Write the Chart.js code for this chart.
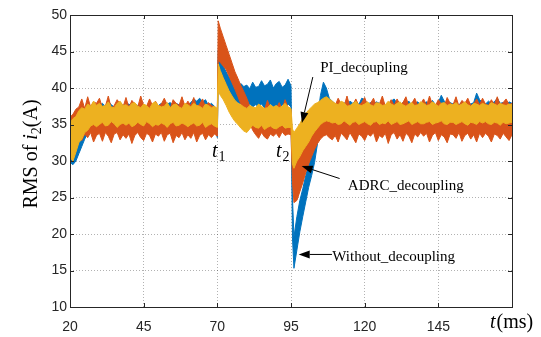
<!DOCTYPE html>
<html lang="en">
<head>
<meta charset="UTF-8">
<title>RMS of i2(A)</title>
<script src="https://cdn.jsdelivr.net/npm/chart.js"></script>
<style>
  html, body { margin: 0; padding: 0; background: #fff; }
  #wrap { width: 541px; height: 337px; }
</style>
</head>
<body>
<div id="wrap"><canvas id="rms-chart" width="541" height="337"></canvas></div>

<script>
// time axis (ms)
var times = [
  20,21,22,23,24,25,26,27,28,29,
  30,31,32,33,34,35,36,37,38,39,
  40,41,42,43,44,45,46,47,48,49,
  50,51,52,53,54,55,56,57,58,59,
  60,61,62,63,64,65,66,67,68,69,
  70,70.3,71,72,73,74,75,76,77,78,79,
  80,81,82,83,84,85,86,87,88,89,
  90,91,92,93,94,95,95.5,
  96,97,98,99,
  100,101,102,103,104,105,106,107,108,109,
  110,111,112,113,114,115,116,117,118,119,
  120,121,122,123,124,125,126,127,128,129,
  130,131,132,133,134,135,136,137,138,139,
  140,141,142,143,144,145,146,147,148,149,
  150,151,152,153,154,155,156,157,158,159,
  160,161,162,163,164,165,166,167,168,169,170
];

// PI_decoupling band (lower / upper edge of the ripple)
var piLow = [
  30.5,30.0,31.2,32.5,33.0,33.9,34.2,34.8,35.0,34.7,
  35.0,35.3,34.8,34.9,35.4,35.1,34.6,35.0,35.2,34.9,
  35.2,34.7,34.9,35.3,35.0,34.8,35.4,35.1,34.7,35.0,
  34.9,35.2,35.0,34.6,35.1,35.3,34.8,34.9,35.2,35.0,
  34.7,35.0,35.2,34.8,34.9,35.3,34.6,34.9,35.1,34.8,
  34.6,39.6,39.0,38.4,37.6,36.7,36.0,35.4,35.0,34.5,34.1,
  33.9,34.4,34.9,34.6,34.5,34.9,34.3,34.6,34.8,34.5,
  34.4,34.7,34.9,34.5,34.6,34.6,29.6,
  29.0,30.0,30.6,31.4,
  32.0,32.6,33.4,34.0,34.5,35.0,35.3,35.5,35.4,35.2,
  35.3,35.0,35.1,35.5,35.2,34.9,35.3,35.4,35.0,35.2,
  35.4,35.1,34.9,35.3,35.4,35.0,35.2,35.1,35.5,35.0,
  35.2,35.4,35.0,35.1,35.3,35.5,35.0,35.2,35.4,35.1,
  35.1,35.3,35.4,35.0,35.2,35.3,35.5,35.1,35.0,35.3,
  35.3,35.0,35.2,35.4,35.1,34.9,35.3,35.2,35.0,35.4,
  35.2,35.4,35.1,35.0,35.3,35.2,34.9,35.3,35.1,35.2,35.3
];
var piHigh = [
  35.2,35.8,36.1,36.9,37.3,37.1,37.8,37.5,38.2,37.6,
  37.9,37.5,37.6,38.1,37.4,37.3,37.9,38.2,37.6,37.7,
  37.4,37.9,38.0,37.5,37.3,37.8,37.6,37.2,37.9,38.1,
  37.6,37.4,37.5,38.0,37.3,37.7,37.8,37.4,37.2,37.9,
  37.7,37.4,37.9,37.6,37.5,37.2,37.8,37.6,37.3,37.5,
  37.2,43.3,42.4,41.4,40.5,39.6,38.9,38.3,37.9,37.7,37.4,
  37.2,37.6,37.4,37.3,37.8,37.5,37.2,37.3,37.7,37.4,
  37.6,37.3,37.5,37.9,37.4,37.2,34.4,
  33.9,34.5,35.1,35.9,
  36.5,37.0,37.4,37.8,38.0,38.3,38.6,38.8,38.5,38.2,
  37.9,37.7,38.2,38.0,37.5,37.6,37.9,38.2,37.7,37.6,
  37.8,38.1,37.7,37.5,38.0,37.9,37.6,37.7,38.2,37.8,
  37.6,37.9,38.1,37.7,37.5,37.8,38.0,37.6,37.7,38.1,
  37.9,37.6,37.7,38.1,37.8,37.5,37.9,38.0,37.6,37.8,
  37.7,38.0,37.6,37.8,38.1,37.7,37.5,37.9,37.8,37.6,
  37.9,37.7,37.6,38.0,37.8,37.6,37.9,37.7,37.6,37.8,37.7
];

// ADRC_decoupling band
var adrcLow = [
  33.8,34.0,33.6,33.4,32.8,33.7,33.2,33.9,32.6,33.5,
  33.8,32.7,33.9,33.4,32.5,33.7,33.9,32.9,33.6,33.1,
  33.7,32.4,33.5,33.9,33.2,32.8,33.8,33.5,32.6,33.7,
  33.4,33.9,32.7,33.6,33.8,32.5,33.5,33.2,33.9,32.9,
  33.6,33.1,33.9,32.6,33.5,33.8,32.9,33.6,33.2,33.7,
  33.4,43.8,43.5,43.0,42.5,41.6,40.7,39.8,38.8,37.8,37.0,
  36.0,35.2,34.2,33.6,33.1,33.9,33.3,33.0,33.7,33.4,
  33.8,33.2,34.0,33.5,33.7,33.6,27.2,
  24.3,24.6,25.8,27.0,
  28.4,29.6,30.6,31.6,32.4,33.0,33.4,33.6,33.2,32.9,
  33.5,32.6,33.8,33.4,32.9,33.9,33.2,32.5,33.7,33.4,
  32.8,33.7,33.4,33.9,32.6,33.5,33.2,33.8,32.4,33.6,
  33.9,33.0,33.6,32.7,33.8,33.4,32.5,33.7,33.3,33.9,
  33.4,33.8,32.6,33.5,33.9,32.8,33.6,33.3,32.5,33.7,
  33.6,33.1,33.9,32.7,33.5,33.8,33.0,33.6,32.6,33.8,
  33.2,33.8,33.4,32.6,33.7,33.5,33.0,33.8,33.3,32.8,33.6
];
var adrcHigh = [
  36.0,36.4,37.1,37.4,38.5,37.2,38.8,37.4,38.1,37.9,
  38.6,37.3,37.5,38.9,37.2,37.6,38.4,37.8,37.4,38.7,
  37.3,38.3,37.8,37.4,38.9,37.6,37.5,38.5,37.6,38.2,
  37.5,37.8,38.6,37.7,37.2,38.4,37.9,37.6,38.8,37.5,
  38.2,37.6,38.7,37.4,37.8,38.5,37.3,38.0,37.6,37.4,
  36.8,49.2,48.2,47.0,45.8,44.6,43.4,42.2,41.3,40.3,39.5,
  38.6,37.5,37.0,37.2,36.9,37.4,37.0,38.3,37.3,36.9,
  37.2,38.0,37.1,38.4,37.3,37.1,31.8,
  29.6,30.2,31.2,32.2,
  33.2,34.2,35.1,36.0,36.6,37.1,37.6,37.8,37.4,37.9,
  37.6,38.6,37.8,37.5,38.9,37.4,37.7,38.5,37.6,38.0,
  38.7,37.6,37.9,38.6,37.5,37.8,38.9,37.5,37.7,38.4,
  37.6,38.5,37.7,38.0,38.8,37.5,37.9,38.6,37.6,37.8,
  38.5,37.6,38.9,37.7,37.6,38.4,37.8,37.5,38.7,37.9,
  37.7,38.8,37.5,38.3,37.9,38.6,37.6,37.8,38.5,37.7,
  38.6,37.8,37.6,38.4,37.7,38.8,37.6,38.0,38.5,37.7,37.9
];

// Without_decoupling band
var noDecLow = [
  29.8,29.5,30.0,31.0,32.0,33.0,33.8,34.4,34.8,35.0,
  35.1,34.9,35.3,35.0,35.2,34.8,35.1,35.3,34.9,35.2,
  35.0,35.2,34.8,35.1,35.3,34.9,35.2,35.0,35.1,34.9,
  35.2,34.9,35.1,35.3,35.0,35.2,34.8,35.1,35.3,35.0,
  35.1,35.0,35.3,34.9,35.2,35.0,35.1,34.8,35.2,35.0,
  33.2,41.0,40.6,40.0,39.5,39.0,38.6,38.2,38.0,37.8,37.6,
  37.5,37.8,37.4,37.7,37.5,37.8,37.3,37.6,37.8,37.4,
  37.6,37.3,37.7,37.5,37.8,37.4,19.5,
  15.3,17.8,20.3,22.4,
  24.4,26.4,28.0,29.8,32.4,34.8,36.0,35.4,34.6,34.2,
  35.0,35.3,34.9,35.2,35.0,35.4,35.1,34.9,35.2,35.0,
  35.2,34.9,35.1,35.3,35.0,35.2,34.8,35.1,35.0,35.3,
  35.1,35.0,35.2,34.9,35.1,35.3,35.0,35.2,34.9,35.1,
  35.0,35.2,34.9,35.1,35.3,35.0,35.2,34.8,35.1,35.0,
  35.1,35.3,35.0,35.2,34.9,35.1,35.0,35.2,35.3,35.0,
  35.2,35.0,35.1,35.3,34.9,35.2,35.0,35.1,35.3,35.0,35.1
];
var noDecHigh = [
  34.0,33.6,34.2,35.0,36.0,36.6,37.2,37.5,37.8,37.6,
  37.6,37.9,37.5,38.2,37.7,37.4,37.9,38.0,37.6,37.8,
  37.8,37.5,37.9,37.6,38.1,37.7,37.4,38.0,37.6,37.9,
  37.6,37.9,37.5,37.8,38.0,37.6,37.9,37.7,38.0,37.5,
  37.7,38.0,38.5,38.2,38.6,38.1,38.4,37.6,37.9,37.5,
  36.6,45.2,44.0,43.0,42.2,41.5,41.0,40.6,40.3,40.6,40.2,
  40.4,39.9,40.8,40.1,40.2,41.0,40.3,40.5,41.1,40.0,
  40.6,40.9,40.1,40.4,41.2,40.3,25.0,
  19.6,22.4,24.6,26.2,
  28.0,29.6,31.2,33.0,36.0,39.0,40.8,40.0,38.6,38.2,
  37.8,38.1,37.7,38.0,37.6,38.2,37.9,38.3,37.7,38.6,
  38.4,37.8,38.0,37.7,38.1,37.9,38.0,37.6,37.9,38.2,
  38.5,37.9,37.7,38.0,37.8,38.2,37.6,37.9,38.1,37.7,
  37.9,38.1,37.8,38.3,37.7,38.0,39.0,38.2,37.8,38.0,
  37.8,38.0,37.7,38.1,37.9,38.2,37.8,38.0,39.3,38.4,
  38.0,37.8,38.2,37.9,38.1,38.6,37.9,38.0,37.7,38.1,37.9
];

var xTicks = [20, 45, 70, 95, 120, 145];

var BLUE = '#0072BD', ORANGE = '#D95319', YELLOW = '#EDB120';
var INK = '#262626';

function toPoints(vals) {
  return vals.map(function(v, i) { return { x: times[i], y: v }; });
}

function band(name, low, high, color, order) {
  var base = { borderColor: color, backgroundColor: color, borderWidth: 1,
               pointRadius: 0, tension: 0, order: order };
  return [
    Object.assign({ label: name + ' low', data: toPoints(low), fill: false }, base),
    Object.assign({ label: name, data: toPoints(high), fill: '-1' }, base)
  ];
}

// frame, inward ticks, axis titles and the arrows with their labels
var extras = {
  id: 'extras',
  afterDraw: function(chart) {
    var ctx = chart.ctx, a = chart.chartArea;
    var xs = chart.scales.x, ys = chart.scales.y;
    ctx.save();
    ctx.strokeStyle = INK;
    ctx.lineWidth = 1;
    ctx.strokeRect(Math.round(a.left) + 0.5, Math.round(a.top) + 0.5,
                   Math.round(a.right - a.left), Math.round(a.bottom - a.top));
    ctx.beginPath();
    xTicks.forEach(function(t) {
      var px = Math.round(xs.getPixelForValue(t)) + 0.5;
      ctx.moveTo(px, a.bottom); ctx.lineTo(px, a.bottom - 4);
      ctx.moveTo(px, a.top); ctx.lineTo(px, a.top + 4);
    });
    ys.ticks.forEach(function(tk) {
      var py = Math.round(ys.getPixelForValue(tk.value)) + 0.5;
      ctx.moveTo(a.left, py); ctx.lineTo(a.left + 4, py);
      ctx.moveTo(a.right, py); ctx.lineTo(a.right - 4, py);
    });
    ctx.stroke();

    // y title: RMS of i_2(A)
    ctx.fillStyle = '#000';
    ctx.textBaseline = 'alphabetic';
    ctx.textAlign = 'left';
    var f1 = '20px "Liberation Serif"', fi = 'italic 20px "Liberation Serif"', fs = '14px "Liberation Serif"';
    ctx.font = f1; var w1 = ctx.measureText('RMS of ').width;
    ctx.font = fi; var w2 = ctx.measureText('i').width;
    ctx.font = fs; var w3 = ctx.measureText('2').width;
    ctx.font = f1; var w4 = ctx.measureText('(A)').width;
    var total = w1 + w2 + w3 + w4;
    ctx.save();
    ctx.translate(37, 154);
    ctx.rotate(-Math.PI / 2);
    var x0 = -total / 2;
    ctx.font = f1; ctx.fillText('RMS of ', x0, 0);
    ctx.font = fi; ctx.fillText('i', x0 + w1, 0);
    ctx.font = fs; ctx.fillText('2', x0 + w1 + w2, 4);
    ctx.font = f1; ctx.fillText('(A)', x0 + w1 + w2 + w3, 0);
    ctx.restore();

    // x title: t(ms)
    ctx.font = 'italic 20px "Liberation Serif"';
    var tw = ctx.measureText('t').width;
    ctx.fillText('t', 490, 328);
    ctx.font = '20px "Liberation Serif"';
    ctx.fillText('(ms)', 490 + tw + 1, 328);

    // t1 / t2 marks
    function sub(label, index, t, v) {
      var px = xs.getPixelForValue(t), py = ys.getPixelForValue(v);
      ctx.font = 'italic 20px "Liberation Serif"';
      var w = ctx.measureText(label).width;
      ctx.fillText(label, px, py);
      ctx.font = '14px "Liberation Serif"';
      ctx.fillText(index, px + w + 1, py + 4);
    }
    sub('t', '1', 68.2, 30.6);
    sub('t', '2', 89.9, 30.6);

    // labelled arrows
    function arrow(t0, v0, t1, v1) {
      var x0 = xs.getPixelForValue(t0), y0 = ys.getPixelForValue(v0);
      var x1 = xs.getPixelForValue(t1), y1 = ys.getPixelForValue(v1);
      var ang = Math.atan2(y1 - y0, x1 - x0), L = 11, W = 4;
      ctx.strokeStyle = '#000';
      ctx.lineWidth = 1;
      ctx.beginPath();
      ctx.moveTo(x0, y0);
      ctx.lineTo(x1 - Math.cos(ang) * L, y1 - Math.sin(ang) * L);
      ctx.stroke();
      ctx.beginPath();
      ctx.moveTo(x1, y1);
      ctx.lineTo(x1 - Math.cos(ang) * L - Math.sin(ang) * W, y1 - Math.sin(ang) * L + Math.cos(ang) * W);
      ctx.lineTo(x1 - Math.cos(ang) * L + Math.sin(ang) * W, y1 - Math.sin(ang) * L - Math.cos(ang) * W);
      ctx.closePath();
      ctx.fillStyle = '#000';
      ctx.fill();
    }
    ctx.font = '15px "Liberation Serif"';
    ctx.fillStyle = '#000';
    ctx.fillText('PI_decoupling', xs.getPixelForValue(104.9), ys.getPixelForValue(42.2));
    arrow(102.4, 41.5, 98.7, 35.2);
    ctx.fillStyle = '#000';
    ctx.fillText('ADRC_decoupling', xs.getPixelForValue(114.3), ys.getPixelForValue(26.0));
    arrow(111.5, 27.6, 98.6, 29.3);
    ctx.fillStyle = '#000';
    ctx.fillText('Without_decoupling', xs.getPixelForValue(109.0), ys.getPixelForValue(16.3));
    arrow(108.9, 17.2, 97.6, 17.2);
    ctx.restore();
  }
};

var ctx = document.getElementById('rms-chart').getContext('2d');
var chart = new Chart(ctx, {
  type: 'line',
  data: {
    datasets: []
      .concat(band('PI_decoupling', piLow, piHigh, YELLOW, 1))
      .concat(band('ADRC_decoupling', adrcLow, adrcHigh, ORANGE, 2))
      .concat(band('Without_decoupling', noDecLow, noDecHigh, BLUE, 3))
  },
  options: {
    responsive: false,
    animation: false,
    layout: { padding: { left: 0, right: 29, top: 15, bottom: 0 } },
    plugins: { legend: { display: false }, tooltip: { enabled: false } },
    scales: {
      x: {
        type: 'linear', min: 20, max: 170,
        afterBuildTicks: function(s) { s.ticks = xTicks.concat([170]).map(function(v) { return { value: v }; }); },
        afterFit: function(s) { s.height = 30; },
        grid: { color: 'rgba(0,0,0,0.3)', drawTicks: false },
        border: { display: false, dash: [1, 2] },
        ticks: {
          padding: 12, color: INK, maxRotation: 0,
          font: { family: '"Liberation Sans"', size: 14 },
          callback: function(v) { return v === 170 ? '' : v; }
        }
      },
      y: {
        min: 10, max: 50,
        afterFit: function(s) { s.width = 70; },
        grid: { color: 'rgba(0,0,0,0.3)', drawTicks: false },
        border: { display: false, dash: [1, 2] },
        ticks: {
          stepSize: 5, padding: 3, color: INK,
          font: { family: '"Liberation Sans"', size: 14 }
        }
      }
    }
  },
  plugins: [extras]
});
</script>
</body>
</html>
